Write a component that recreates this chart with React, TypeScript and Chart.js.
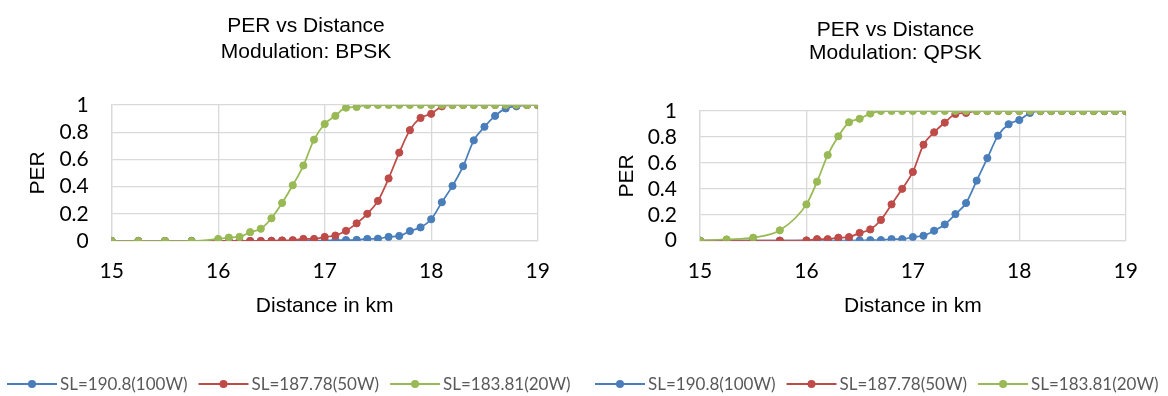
import React, { useEffect, useRef } from "react";
import { Chart, registerables } from "chart.js";

Chart.register(...registerables);

// ---------- data ----------
const distances = [
  15, 15.25, 15.5, 15.75, 16, 16.1, 16.2, 16.3, 16.4, 16.5, 16.6, 16.7, 16.8, 16.9,
  17, 17.1, 17.2, 17.3, 17.4, 17.5, 17.6, 17.7, 17.8, 17.9, 18, 18.1, 18.2, 18.3,
  18.4, 18.5, 18.6, 18.7, 18.8, 18.9, 19,
];

const seriesLabels = ["SL=190.8(100W)", "SL=187.78(50W)", "SL=183.81(20W)"];

const bpsk100W = [
  0, 0, 0, 0, 0, 0, 0, 0, 0, 0, 0.001, 0.001, 0.002, 0.002, 0.003, 0.005, 0.007, 0.008,
  0.015, 0.017, 0.03, 0.037, 0.073, 0.1, 0.16, 0.285, 0.405, 0.55, 0.74, 0.84, 0.92,
  0.975, 0.99, 1, 1,
];
const bpsk50W = [
  0, 0, 0, 0, 0, 0, 0, 0, 0, 0.002, 0.004, 0.006, 0.015, 0.015, 0.03, 0.04, 0.075, 0.13,
  0.2, 0.295, 0.46, 0.65, 0.815, 0.905, 0.935, 0.99, 1, 1, 1, 1, 1, 1, 1, 1, 1,
];
const bpsk20W = [
  0, 0, 0, 0, 0.015, 0.025, 0.03, 0.065, 0.09, 0.167, 0.28, 0.41, 0.555, 0.745, 0.86,
  0.92, 0.98, 0.985, 1, 1, 1, 1, 1, 1, 1, 1, 1, 1, 1, 1, 1, 1, 1, 1, 1,
];

const qpsk100W = [
  0, 0, 0, 0, 0, 0, 0, 0.001, 0.001, 0.002, 0.004, 0.005, 0.012, 0.012, 0.028, 0.038,
  0.077, 0.125, 0.205, 0.29, 0.463, 0.637, 0.81, 0.898, 0.93, 0.985, 1, 1, 1, 1, 1, 1,
  1, 1, 1,
];
const qpsk50W = [
  0, 0, 0, 0, 0.002, 0.012, 0.012, 0.023, 0.028, 0.06, 0.087, 0.16, 0.28, 0.4, 0.53,
  0.74, 0.836, 0.91, 0.977, 0.985, 1, 1, 1, 1, 1, 1, 1, 1, 1, 1, 1, 1, 1, 1, 1,
];
const qpsk20W = [
  0, 0.01, 0.023, 0.08, 0.28, 0.455, 0.66, 0.805, 0.913, 0.94, 0.98, 1, 1, 1, 1, 1, 1,
  1, 1, 1, 1, 1, 1, 1, 1, 1, 1, 1, 1, 1, 1, 1, 1, 1, 1,
];

const xTickLabels = ["15", "16", "17", "18", "19"];
const yTickLabels = ["0", "0.2", "0.4", "0.6", "0.8", "1"];

const bpskTitle = ["PER vs Distance", "Modulation: BPSK"];
const qpskTitle = ["PER vs Distance", "Modulation: QPSK"];
const xAxisTitle = "Distance in km";
const yAxisTitle = "PER";

// ---------- styles ----------
const COLORS = ["#4A7EBB", "#BE4B48", "#98B954"];
const GRID = "#d9d9d9";
const CANVAS_W = 584;
const CANVAS_H = 396;
const TITLE_FONT = '21px "Liberation Sans", Arial, sans-serif';
const LEGEND_FONT = '17px Lato, "Open Sans", sans-serif';
const TICK_FONT = { family: 'Lato, "Open Sans", sans-serif', size: 21 };

type Layout = {
  plotLeft: number;
  plotRight: number;
  plotTop: number;
  plotBottom: number;
  titleX: number;
  titleY: number[];
  legendX: number;
  legendY: number;
  yTitleX: number;
};

const leftLayout: Layout = {
  plotLeft: 111.7,
  plotRight: 537.7,
  plotTop: 105,
  plotBottom: 241,
  titleX: 306,
  titleY: [26, 52],
  legendX: 7,
  legendY: 384,
  yTitleX: 38,
};

const rightLayout: Layout = {
  plotLeft: 116,
  plotRight: 541.7,
  plotTop: 111,
  plotBottom: 240.7,
  titleX: 311.5,
  titleY: [30, 53],
  legendX: 11,
  legendY: 384,
  yTitleX: 43,
};

const X_AXIS_H = 80;

function makeConfig(title: string[], series: number[][], lay: Layout): any {
  const decorations = {
    id: "decor",
    afterDraw(chart: any) {
      const ctx = chart.ctx;
      ctx.save();
      // title
      ctx.font = TITLE_FONT;
      ctx.fillStyle = "#000";
      ctx.textAlign = "center";
      ctx.textBaseline = "middle";
      title.forEach((t, i) => ctx.fillText(t, lay.titleX, lay.titleY[i]));
      // legend
      let x = lay.legendX;
      const y = lay.legendY;
      ctx.font = LEGEND_FONT;
      ctx.textAlign = "left";
      chart.data.datasets.forEach((ds: any, i: number) => {
        ctx.strokeStyle = COLORS[i];
        ctx.lineWidth = 2;
        ctx.beginPath();
        ctx.moveTo(x, y);
        ctx.lineTo(x + 50, y);
        ctx.stroke();
        ctx.fillStyle = COLORS[i];
        ctx.beginPath();
        ctx.arc(x + 25, y, 4, 0, Math.PI * 2);
        ctx.fill();
        ctx.fillStyle = "#595959";
        ctx.fillText(ds.label, x + 53, y + 1);
        x += 53 + ctx.measureText(ds.label).width + 11;
      });
      ctx.restore();
    },
  };

  const datasets = series.map((vals, i) => ({
    label: seriesLabels[i],
    data: distances.map((d, j) => ({ x: d, y: vals[j] })),
    borderColor: COLORS[i],
    backgroundColor: COLORS[i],
    borderWidth: 1.75,
    pointRadius: 3.6,
    pointBorderWidth: 1,
    pointBorderColor: COLORS[i],
    pointBackgroundColor: COLORS[i],
    cubicInterpolationMode: "monotone",
    order: 2 - i,
  }));

  return {
    type: "line",
    data: { datasets },
    options: {
      responsive: false,
      animation: false,
      events: [],
      layout: {
        padding: {
          left: 0,
          top: lay.plotTop,
          right: CANVAS_W - lay.plotRight,
          bottom: CANVAS_H - lay.plotBottom - X_AXIS_H,
        },
      },
      plugins: {
        legend: { display: false },
        title: { display: false },
        tooltip: { enabled: false },
      },
      scales: {
        x: {
          type: "linear",
          min: 15,
          max: 19,
          afterFit(scale: any) {
            scale.height = X_AXIS_H;
          },
          afterBuildTicks(scale: any) {
            scale.ticks = xTickLabels.map((l) => ({ value: Number(l) }));
          },
          ticks: {
            padding: 18,
            maxRotation: 0,
            autoSkip: false,
            color: "#000",
            font: TICK_FONT,
            callback: (v: number) => xTickLabels.find((l) => Number(l) === v) ?? "",
          },
          grid: { color: GRID, lineWidth: 1.3, drawTicks: false },
          border: { color: GRID, width: 1.3 },
          title: {
            display: true,
            text: xAxisTitle,
            color: "#000",
            font: { family: '"Liberation Sans", Arial, sans-serif', size: 21 },
            padding: { top: 0, bottom: 2 },
          },
        },
        y: {
          type: "linear",
          min: 0,
          max: 1,
          afterFit(scale: any) {
            scale.width = lay.plotLeft;
          },
          afterBuildTicks(scale: any) {
            scale.ticks = yTickLabels.map((l) => ({ value: Number(l) }));
          },
          ticks: {
            padding: 23,
            autoSkip: false,
            color: "#000",
            font: TICK_FONT,
            callback: (v: number) =>
              yTickLabels.find((l) => Math.abs(Number(l) - v) < 1e-6) ?? "",
          },
          grid: { color: GRID, lineWidth: 1.3, drawTicks: false },
          border: { color: GRID, width: 1.3 },
          title: {
            display: true,
            text: yAxisTitle,
            color: "#000",
            font: { family: '"Liberation Sans", Arial, sans-serif', size: 21 },
            padding: { top: lay.yTitleX - 12.6, bottom: 0 },
          },
        },
      },
    },
    plugins: [decorations],
  };
}

function PerChart(props: { title: string[]; series: number[][]; lay: Layout; left: number }) {
  const ref = useRef<HTMLCanvasElement | null>(null);
  useEffect(() => {
    if (!ref.current) return;
    const chart = new Chart(ref.current, makeConfig(props.title, props.series, props.lay));
    return () => chart.destroy();
  }, []);
  return (
    <div style={{ position: "absolute", left: props.left, top: 0, width: CANVAS_W, height: CANVAS_H }}>
      <canvas ref={ref} width={CANVAS_W} height={CANVAS_H} style={{ display: "block", width: CANVAS_W, height: CANVAS_H }} />
    </div>
  );
}

export default function App() {
  return (
    <div style={{ position: "absolute", left: 0, top: 0, width: 1168, height: 396, background: "#fff", overflow: "hidden" }}>
      <PerChart title={bpskTitle} series={[bpsk100W, bpsk50W, bpsk20W]} lay={leftLayout} left={0} />
      <PerChart title={qpskTitle} series={[qpsk100W, qpsk50W, qpsk20W]} lay={rightLayout} left={584} />
    </div>
  );
}
